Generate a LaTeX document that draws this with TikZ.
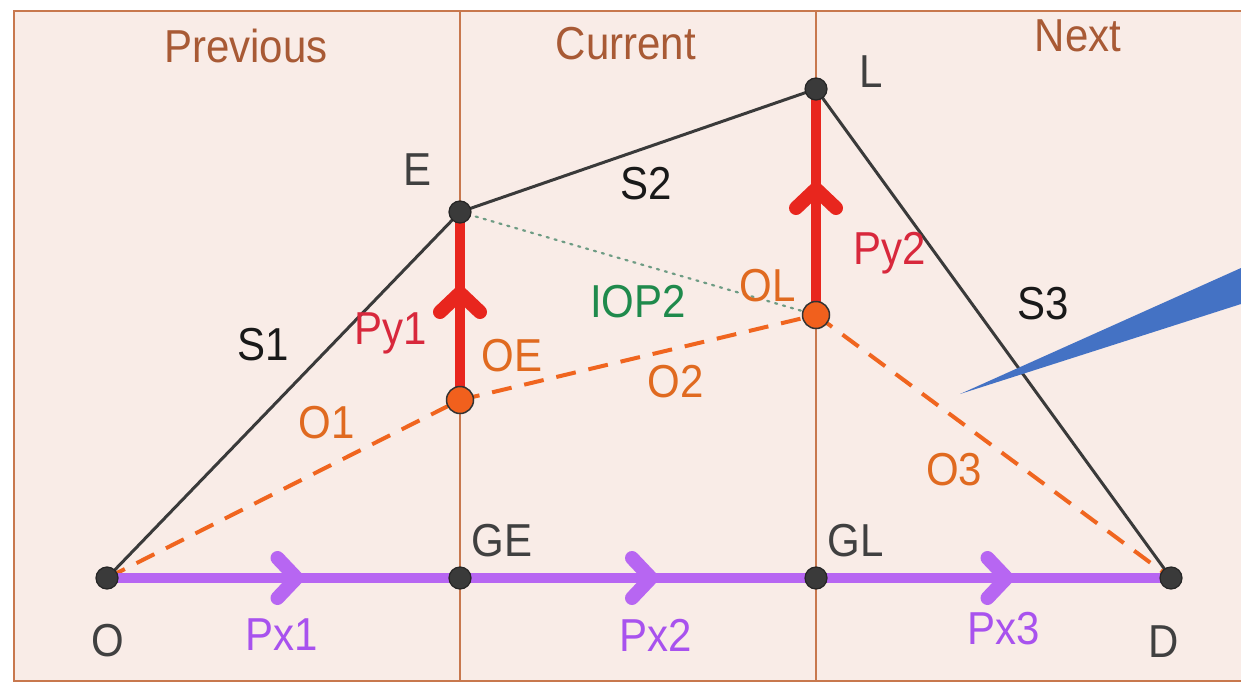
\documentclass[tikz,border=0pt]{standalone}
\usepackage{fontspec}
\setmainfont{Liberation Sans}
\usetikzlibrary{calc}
\definecolor{framec}{HTML}{C8784E}
\definecolor{bgpink}{HTML}{F9ECE7}
\definecolor{headc}{HTML}{A85A35}
\definecolor{ptc}{HTML}{404040}
\definecolor{segc}{HTML}{3A3A3A}
\definecolor{redl}{HTML}{E8261E}
\definecolor{redt}{HTML}{D8283C}
\definecolor{orl}{HTML}{F0651F}
\definecolor{ort}{HTML}{E06A20}
\definecolor{greent}{HTML}{1F8A4C}
\definecolor{dotg}{HTML}{6E9C84}
\definecolor{purl}{HTML}{B766F2}
\definecolor{purt}{HTML}{A852EE}
\definecolor{bluep}{HTML}{4472C4}
\newcommand{\stretchtxt}[1]{\scalebox{1}[1.1]{#1}}
\begin{document}
\begin{tikzpicture}[x=1pt,y=-1pt,
  lbl/.style={inner sep=0pt, font=\fontsize{42}{48}\selectfont},
  framel/.style={draw=framec, line width=2pt},
  seg/.style={draw=segc, line width=3pt},
  odash/.style={draw=orl, line width=4pt, dash pattern=on 20pt off 13pt},
  iop/.style={draw=dotg, line width=2.2pt, dash pattern=on 2.2pt off 6pt, line cap=round},
  chevron/.style={draw=#1, line width=14pt, line cap=round, line join=round},
  pyl/.style={draw=redl, line width=10pt},
  pxl/.style={draw=purl, line width=10pt},
  bdot/.style={circle, fill=segc, draw=black!85, line width=1.2pt, minimum size=22pt, inner sep=0pt},
  odot/.style={circle, fill=orl!95!red, draw=black!80, line width=1.5pt, minimum size=27pt, inner sep=0pt}]
\useasboundingbox (0,0) rectangle (1241,685);
\clip (0,0) rectangle (1241,685);
\fill[white] (0,0) rectangle (1241,685);
% panels
\filldraw[framel, fill=bgpink] (14,11) rectangle (1270,681);
\draw[framel] (460,11) -- (460,681);
\draw[framel] (816,11) -- (816,681);
% coordinates
\coordinate (O) at (107,578);
\coordinate (GE) at (460,578);
\coordinate (GL) at (816,578);
\coordinate (D) at (1171,578);
\coordinate (E) at (460,212);
\coordinate (L) at (816,89);
\coordinate (OE) at (460,400);
\coordinate (OL) at (816,315);
% segments
\draw[seg] (O) -- (E);
\draw[seg] (E) -- (L);
\draw[seg] (L) -- (D);
\draw[odash] (O) -- (OE);
\draw[odash] (OE) -- (OL);
\draw[odash] (OL) -- (D);
\draw[iop] (E) -- (OL);
\draw[pyl] (OE) -- (E);
\draw[pyl] (OL) -- (L);
\draw[pxl] (O) -- (GE);
\draw[pxl] (GE) -- (GL);
\draw[pxl] (GL) -- (D);
% chevrons (direction marks)
\coordinate (m1) at ($(O)!0.5!(GE)$);
\coordinate (m2) at ($(GE)!0.5!(GL)$);
\coordinate (m3) at ($(GL)!0.5!(D)$);
\coordinate (m4) at ($(OE)!0.5!(E)$);
\coordinate (m5) at ($(OL)!0.5!(L)$);
\foreach \m in {m1,m2,m3}
  \draw[chevron=purl] ($(\m)+(-6,-20)$) -- ($(\m)+(13,0)$) -- ($(\m)+(-6,20)$);
\foreach \m in {m4,m5}
  \draw[chevron=redl] ($(\m)+(-20,6)$) -- ($(\m)+(0,-13)$) -- ($(\m)+(20,6)$);
% dots
\node[bdot] (nO) at (O) {};
\node[bdot] (nGE) at (GE) {};
\node[bdot] (nGL) at (GL) {};
\node[bdot] (nD) at (D) {};
\node[bdot] (nE) at (E) {};
\node[bdot] (nL) at (L) {};
\node[odot] (nOE) at (OE) {};
\node[odot] (nOL) at (OL) {};
% headers
\node[lbl, text=headc] (hPrev) at (246,46) {\stretchtxt{Previous}};
\node[lbl, text=headc] (hCur) at (626,44) {\stretchtxt{Current}};
\node[lbl, text=headc] (hNext) at (1078,36) {\stretchtxt{Next}};
% point labels
\node[lbl, text=ptc] (tE) at (418,170) {\stretchtxt{E}};
\node[lbl, text=ptc] (tL) at (871,72) {\stretchtxt{L}};
\node[lbl, text=ptc] (tO) at (108,641) {\stretchtxt{O}};
\node[lbl, text=ptc] (tD) at (1164,642) {\stretchtxt{D}};
\node[lbl, text=ptc] (tGE) at (502,541) {\stretchtxt{GE}};
\node[lbl, text=ptc] (tGL) at (856,541) {\stretchtxt{GL}};
% segment labels
\node[lbl, text=black!90] (tS1) at (263,345) {\stretchtxt{S1}};
\node[lbl, text=black!90] (tS2) at (646,184) {\stretchtxt{S2}};
\node[lbl, text=black!90] (tS3) at (1043,304) {\stretchtxt{S3}};
\node[lbl, text=redt] (tPy1) at (391,333) {\stretchtxt{Py1}};
\node[lbl, text=redt] (tPy2) at (890,253) {\stretchtxt{Py2}};
\node[lbl, text=ort] (tOE) at (512,356) {\stretchtxt{OE}};
\node[lbl, text=ort] (tOL) at (768,286) {\stretchtxt{OL}};
\node[lbl, text=ort] (tO1) at (327,423) {\stretchtxt{O1}};
\node[lbl, text=ort] (tO2) at (676,382) {\stretchtxt{O2}};
\node[lbl, text=ort] (tO3) at (954,470) {\stretchtxt{O3}};
\node[lbl, text=greent] (tIOP) at (638,302) {\stretchtxt{IOP2}};
\node[lbl, text=purt] (tPx1) at (282,635) {\stretchtxt{Px1}};
\node[lbl, text=purt] (tPx2) at (656,635) {\stretchtxt{Px2}};
\node[lbl, text=purt] (tPx3) at (1004,629) {\stretchtxt{Px3}};
% blue pointer
\fill[bluep] (960,394) -- (1241,268) -- (1241,304) -- cycle;
\end{tikzpicture}
\end{document}
